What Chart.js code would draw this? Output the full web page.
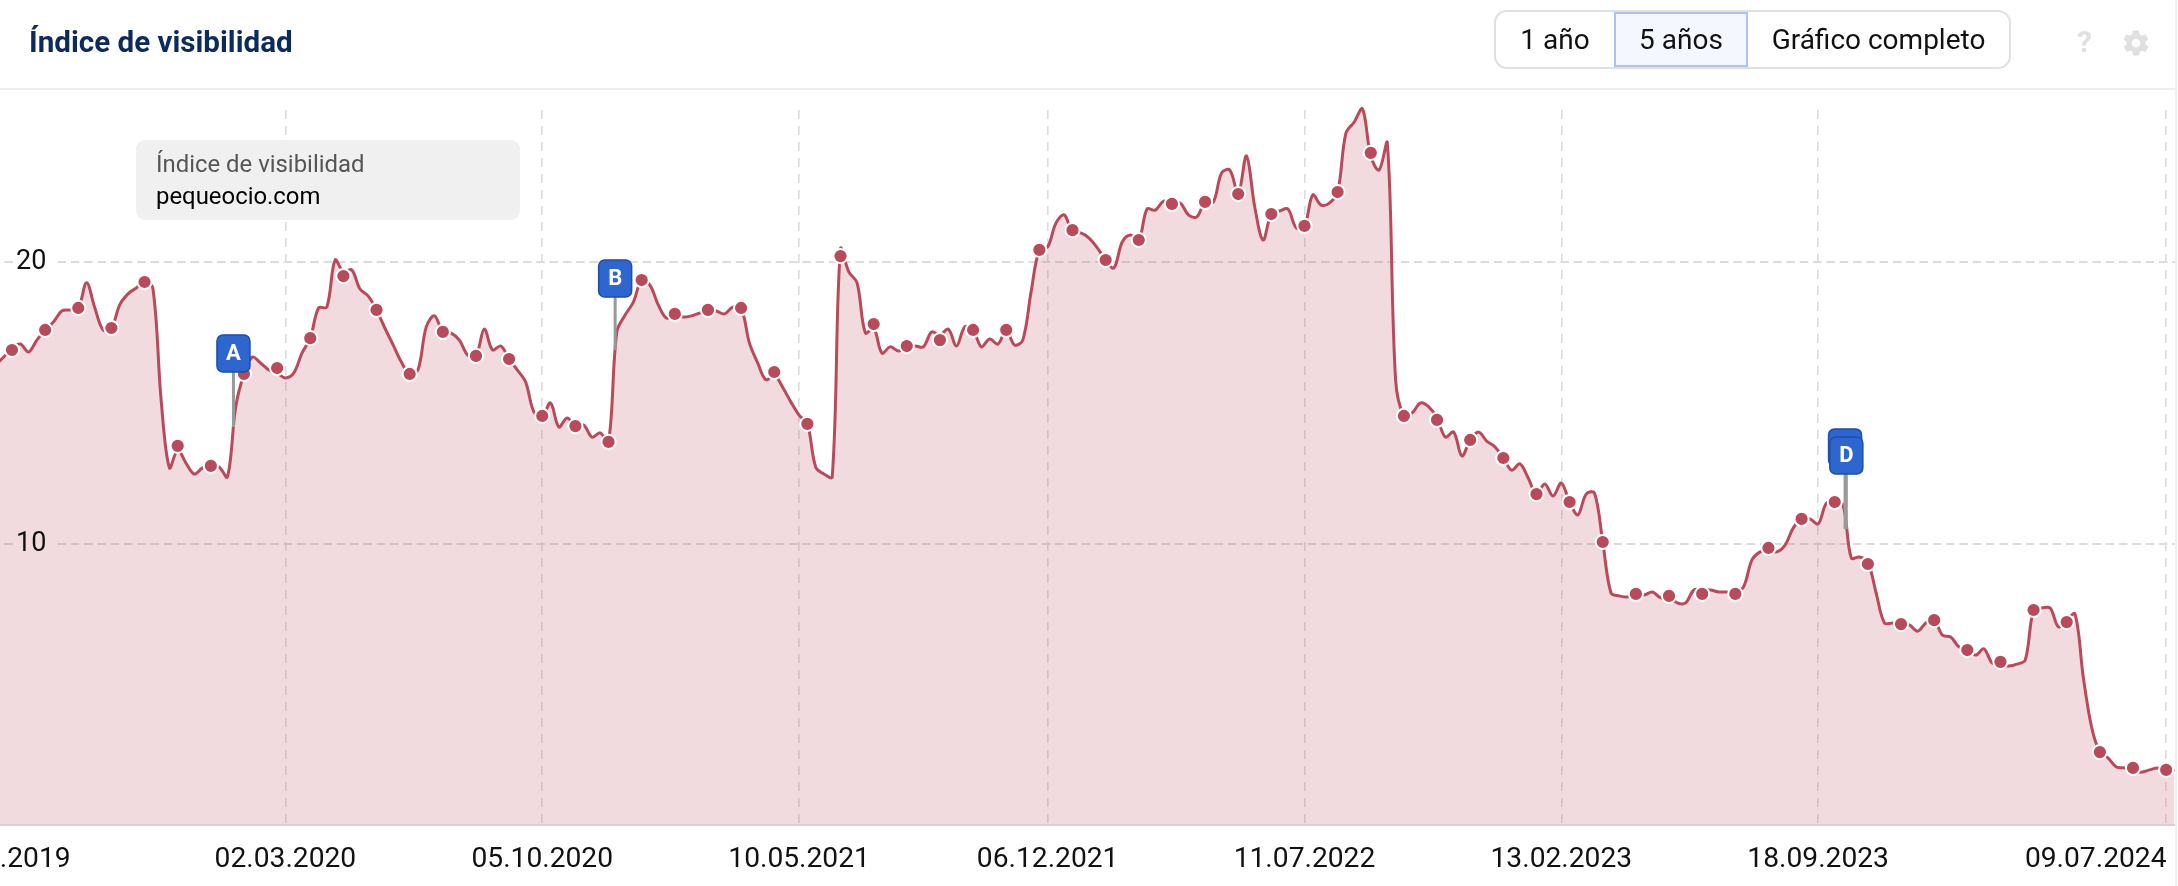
<!DOCTYPE html>
<html lang="es">
<head>
<meta charset="utf-8">
<title>Índice de visibilidad</title>
<script src="https://cdn.jsdelivr.net/npm/chart.js@4"></script>
<style>
html,body{margin:0;padding:0;background:#fff;width:2178px;height:886px;overflow:hidden;font-family:Roboto,sans-serif}
#card{position:absolute;left:0;top:0;width:2178px;height:886px}
#chart{position:absolute;left:0;top:0}
#hline{position:absolute;left:0;top:88px;width:2175px;height:2px;background:#eeeeee}
#vline{position:absolute;left:2175px;top:0;width:2px;height:886px;background:#f0f0f0}
#title{position:absolute;left:29px;top:24px;font:700 29.6px/36px Roboto,sans-serif;color:#0d2a5c;white-space:nowrap}
#btns{position:absolute;left:1494px;top:10px;width:517px;height:59px;box-sizing:border-box;border:2px solid #e0e0e0;border-radius:13px;display:flex;font:400 28px/55px Roboto,sans-serif;color:#111;overflow:hidden;background:#fff}
#btns div{text-align:center;box-sizing:border-box}
#b1{width:118px}
#b2{width:134px;background:#f4f7fe;box-shadow:inset 0 0 0 2px #aac4ee}
#b3{flex:1}
#q{position:absolute;left:2077px;top:22px;font:700 30px/40px Roboto,sans-serif;color:#e0e0e0}
#gear{position:absolute;left:2121px;top:28px;width:30px;height:30px}
#legend{position:absolute;left:136px;top:140px;width:384px;height:80px;background:rgba(239,239,239,.93);border-radius:9px;font:400 23.9px/33px Roboto,sans-serif;z-index:2}
#legend .a{position:absolute;left:20px;top:8px;color:#555;white-space:nowrap}
#legend .b{position:absolute;left:20px;top:40px;color:#000;white-space:nowrap}
</style>
</head>
<body>
<div id="card">
  <canvas id="chart" width="2178" height="886"></canvas>
  <div id="hline"></div>
  <div id="vline"></div>
  <div id="title">Índice de visibilidad</div>
  <div id="btns"><div id="b1">1 año</div><div id="b2">5 años</div><div id="b3">Gráfico completo</div></div>
  <div id="q">?</div>
  <svg id="gear" viewBox="0 0 24 24"><path fill="#e0e0e0" d="M19.4 13a7.5 7.5 0 0 0 0-2l2.1-1.6a.5.5 0 0 0 .1-.6l-2-3.5a.5.5 0 0 0-.6-.2l-2.5 1a7.4 7.4 0 0 0-1.7-1l-.4-2.6a.5.5 0 0 0-.5-.5h-4a.5.5 0 0 0-.5.4l-.4 2.7a7.6 7.6 0 0 0-1.7 1l-2.5-1a.5.5 0 0 0-.6.2l-2 3.5a.5.5 0 0 0 .1.6L4.6 11a7.5 7.5 0 0 0 0 2l-2.1 1.6a.5.5 0 0 0-.1.6l2 3.5c.1.2.4.3.6.2l2.5-1c.5.4 1.1.7 1.7 1l.4 2.6c0 .3.2.5.5.5h4c.2 0 .5-.2.5-.4l.4-2.7a7.6 7.6 0 0 0 1.7-1l2.5 1c.2.1.5 0 .6-.2l2-3.5a.5.5 0 0 0-.1-.6zM12 15.5a3.5 3.5 0 1 1 0-7 3.5 3.5 0 0 1 0 7z"/></svg>
  <div id="legend"><div class="a">Índice de visibilidad</div><div class="b">pequeocio.com</div></div>
</div>
<script>
// Weekly values, the first one two weeks before week 0 (15.07.2019)
const firstWeek = -2;
const lineValues = [
16.35,16.63,16.95,17.09,16.81,17.23,17.59,17.87,18.26,18.30,
18.37,19.26,18.37,17.59,17.66,18.48,18.87,19.08,19.29,19.08,
15.11,12.70,13.33,12.87,12.48,12.70,12.77,12.73,12.38,14.86,
16.03,16.63,16.42,16.17,16.06,15.89,16.06,16.77,17.30,18.37,
18.40,20.07,19.65,19.72,19.04,18.79,18.30,17.66,17.06,16.45,
16.03,16.17,17.70,18.09,17.52,17.48,17.23,16.70,16.67,17.62,
16.88,17.02,16.56,16.17,15.74,14.68,14.54,15.00,14.15,14.47,
14.18,14.22,13.79,13.94,13.62,17.52,18.12,18.58,19.36,19.18,
18.48,18.01,18.16,18.05,18.09,18.19,18.30,18.26,18.16,18.40,
18.37,17.13,16.42,15.82,15.99,15.57,15.04,14.57,14.26,12.73,
12.48,12.38,20.46,19.65,19.26,17.48,17.66,16.77,16.99,16.84,
16.95,17.02,16.99,17.52,17.41,17.62,17.02,17.70,17.59,16.99,
17.27,17.09,17.59,17.06,17.23,18.94,20.43,20.53,21.38,21.67,
21.06,21.03,20.85,20.50,20.07,19.79,20.71,20.96,20.78,21.88,
21.84,22.16,22.06,22.09,21.67,21.60,22.13,22.13,23.16,23.26,
22.41,23.76,21.95,20.78,21.70,21.81,21.88,21.21,21.28,22.38,
22.02,22.09,22.48,24.57,24.96,25.43,23.76,23.26,24.22,15.82,
14.54,14.65,15.00,14.86,14.47,13.79,13.97,13.12,13.69,13.97,
13.65,13.44,13.05,12.62,12.84,12.34,11.77,12.13,11.70,12.16,
11.49,11.03,11.77,11.81,10.07,8.26,8.16,8.12,8.23,8.19,
8.30,8.09,8.16,7.91,7.91,8.37,8.37,8.37,8.30,8.30,
8.30,8.48,9.43,9.72,9.79,9.72,9.96,10.57,10.89,10.89,
10.71,11.45,11.49,11.38,9.50,9.54,9.36,8.26,7.20,7.20,
7.16,7.13,6.91,7.20,7.30,6.77,6.70,6.35,6.24,6.06,
6.28,5.78,5.71,5.67,5.74,5.89,7.66,7.73,7.73,7.06,
7.30,7.52,5.28,3.51,2.62,2.41,2.09,2.06,1.95,1.91,
1.99,2.06,1.99,1.99
];
// Round markers, one every fourth week from week 0
const markerStep = 4;
const markerValues = [
16.88,17.59,18.37,17.66,19.29,13.48,12.77,16.03,16.24,17.30,19.50,
18.30,16.03,17.52,16.67,16.56,14.54,14.18,13.62,19.36,18.16,18.30,
18.37,16.10,14.26,20.21,17.80,17.02,17.23,17.59,17.59,20.43,21.13,
20.07,20.78,22.06,22.13,22.41,21.70,21.28,22.48,23.87,14.54,14.40,
13.69,13.05,11.77,11.49,10.07,8.23,8.16,8.23,8.23,9.86,10.89,
11.49,9.29,7.16,7.30,6.24,5.82,7.66,7.23,2.62,2.06,1.99
];
// Axis ticks (in weeks)
const xTickWeeks  = [2.8,33,64,95,125,156,187,218,251.5,260];
const xTickLabels = ['.2019','02.03.2020','05.10.2020','10.05.2021','06.12.2021','11.07.2022','13.02.2023','18.09.2023','09.07.2024',''];
const xNoGrid     = [0,8];
const yTickValues = [10,20];
// Event flags
const flagLabels  = ['A','B','C','D'];
const flagWeeks   = [26.73,72.8,221.25,221.4];
const flagBase    = [16.10,18.76,12.77,12.48];
const flagStemEnd = [14.15,16.88,10.53,10.53];

const RED = '#b84a5a';
const flagsPlugin = {
  id:'flags',
  afterDatasetsDraw(chart){
    const {ctx,scales:{x,y}} = chart;
    const w = 33, h = 37;
    flagLabels.forEach((t,i)=>{
      const px = x.getPixelForValue(flagWeeks[i]);
      const bottom = y.getPixelForValue(flagBase[i]);
      ctx.save();
      ctx.strokeStyle = '#999'; ctx.lineWidth = 3;
      ctx.beginPath(); ctx.moveTo(px,bottom);
      ctx.lineTo(px,y.getPixelForValue(flagStemEnd[i])); ctx.stroke();
      ctx.fillStyle = '#2e66cf'; ctx.strokeStyle = '#1f4ea6'; ctx.lineWidth = 1.5;
      ctx.beginPath(); ctx.roundRect(px-w/2,bottom-h,w,h,6); ctx.fill(); ctx.stroke();
      ctx.fillStyle = '#fff'; ctx.font = '700 22px Roboto,sans-serif';
      ctx.textAlign = 'center'; ctx.textBaseline = 'middle';
      ctx.fillText(t,px,bottom-h/2+1);
      ctx.restore();
    });
  }
};

new Chart(document.getElementById('chart'),{
  type:'line',
  plugins:[flagsPlugin],
  data:{datasets:[
    {
      label:'Marcadores',
      data:markerValues.map((y,i)=>({x:i*markerStep,y})),
      showLine:false, order:1, clip:false,
      pointRadius:7.1, pointBorderWidth:2,
      pointBackgroundColor:RED, pointBorderColor:'#fff'
    },
    {
      label:'pequeocio.com',
      data:lineValues.map((y,i)=>({x:i+firstWeek,y})),
      order:2, clip:false,
      borderColor:RED, borderWidth:3, tension:0.35,
      backgroundColor:'rgba(184,74,90,0.2)', fill:'origin',
      pointRadius:0
    }
  ]},
  options:{
    responsive:false, animation:false, events:[],
    layout:{autoPadding:false,padding:{top:110,right:3,left:0,bottom:0}},
    plugins:{legend:{display:false},tooltip:{enabled:false}},
    scales:{
      x:{
        type:'linear', min:-1.448, max:261.07,
        afterBuildTicks:s=>{ s.ticks = xTickWeeks.map(value=>({value})); },
        afterFit:s=>{ s.height = 61.5; s.paddingLeft = 0; s.paddingRight = 0; },
        grid:{
          drawTicks:false, lineWidth:1.6,
          color:c=>xNoGrid.includes(c.index)?'rgba(0,0,0,0)':'#dcdcdc'
        },
        border:{display:true,color:'#dcd0d4',width:2,dash:[9,7]},
        ticks:{
          autoSkip:false, maxRotation:0, minRotation:0, padding:19,
          color:'#111', font:{family:'Roboto',size:28.2},
          callback:(v,i)=>xTickLabels[i]
        }
      },
      y:{
        type:'linear', position:'left', min:0.053, max:25.39,
        afterBuildTicks:s=>{ s.ticks = yTickValues.map(value=>({value})); },
        afterFit:s=>{ s.width = 0; },
        grid:{drawTicks:false, lineWidth:2, color:'#dcdcdc'},
        border:{display:false,dash:[8.5,4.8],dashOffset:9},
        ticks:{
          mirror:true, padding:16, z:1,
          color:'#111', font:{family:'Roboto',size:27},
          showLabelBackdrop:true,
          backdropColor:c=>c.tick.value===20?'#ffffff':'#f1dbde',
          backdropPadding:{left:0,right:8,top:1,bottom:1},
          callback:v=>String(v)
        }
      }
    }
  }
});
</script>
</body>
</html>
